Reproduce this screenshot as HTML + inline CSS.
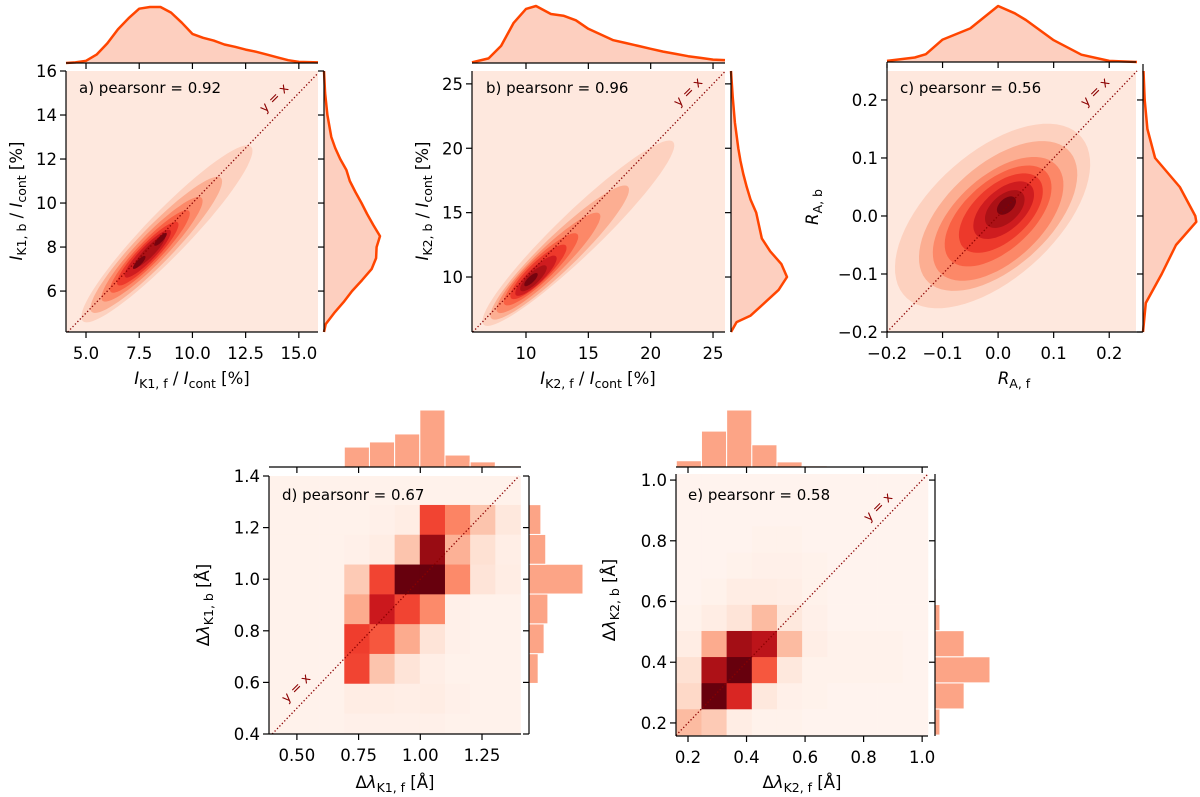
<!DOCTYPE html>
<html><head><meta charset="utf-8">
<style>
html,body{margin:0;padding:0;background:#fff;}
svg{display:block;font-family:"DejaVu Sans","Liberation Sans",sans-serif;}
</style></head>
<body>
<svg id="fig" width="1200" height="797" viewBox="0 0 1200 797" xmlns="http://www.w3.org/2000/svg">
<defs>
<clipPath id="clipA"><rect x="66" y="71" width="252" height="261"/></clipPath>
<clipPath id="clipB"><rect x="472" y="71" width="253" height="261"/></clipPath>
<clipPath id="clipC"><rect x="887" y="71" width="249" height="261"/></clipPath>
</defs>
</svg>
<script>
// ---------- DATA ----------
const aCx=[8.8,8.3,8.1,8.0,7.9,7.9,8.0,7.5,8.5];
const aCy=[8.6,8.1,7.9,7.8,7.7,7.7,7.8,7.3,8.35];
const aA=[5.6,4.3,3.3,2.6,2.0,1.5,1.0,0.4,0.4];
const aB=[1.0,0.82,0.66,0.53,0.43,0.34,0.23,0.12,0.12];
const aLev=[0.18,0.3,0.42,0.54,0.65,0.76,0.88,1.0,1.0];
const aTopX=[4.06,4.5,5,5.5,6,6.5,7,7.5,8,8.5,9,9.5,10,10.5,11,11.5,12,12.5,13,13.5,14,14.5,15,15.9];
const aTopY=[0,0.01,0.04,0.15,0.35,0.6,0.8,0.97,1.0,1.0,0.9,0.72,0.52,0.45,0.4,0.33,0.29,0.24,0.2,0.15,0.1,0.05,0.02,0.01];
const aRightY=[4.14,4.5,5,5.5,6,6.5,7,7.5,8,8.5,9,9.5,10,10.5,11,11.5,12,12.5,13,14,15,16];
const aRightV=[0,0.03,0.18,0.35,0.5,0.68,0.85,0.93,0.94,1.0,0.88,0.77,0.67,0.56,0.46,0.4,0.29,0.2,0.13,0.06,0.02,0];
const bCx=[14.2,12.7,11.8,11.2,11.0,10.8,10.6,10.4];
const bCy=[13.4,11.9,11.1,10.6,10.4,10.1,9.9,9.8];
const bA=[10.4,7.5,5.6,4.0,3.0,2.2,1.4,0.7];
const bB=[1.7,1.35,1.1,0.9,0.75,0.6,0.45,0.25];
const bLev=[0.18,0.3,0.42,0.54,0.65,0.76,0.88,1.0];
const bTopX=[5.67,7,8,9,10,10.8,12,13,14,15,16,17,18,19,20,21,22,23,24,25,25.96];
const bTopY=[0.01,0.08,0.3,0.7,0.95,1.0,0.86,0.83,0.75,0.6,0.5,0.4,0.35,0.3,0.25,0.2,0.16,0.12,0.09,0.06,0.05];
const bRightY=[5.73,6.5,7,8,9,10,11,12,13,14,15,16,17,18,19,20,22,24,26];
const bRightV=[0,0.1,0.35,0.6,0.85,1.0,0.9,0.7,0.55,0.5,0.45,0.35,0.28,0.22,0.17,0.13,0.07,0.03,0];
const cCx=[-0.01,0,0,0,0.005,0.01,0.012,0.015];
const cCy=[0,0,-0.005,0,0.005,0.01,0.012,0.018];
const cA=[0.21,0.17,0.14,0.115,0.09,0.065,0.042,0.02];
const cB=[0.11,0.09,0.075,0.06,0.048,0.035,0.024,0.012];
const cLev=[0.18,0.3,0.42,0.54,0.65,0.76,0.88,1.0];
const cTopX=[-0.2,-0.15,-0.13,-0.1,-0.05,0,0.03,0.05,0.1,0.15,0.2,0.25];
const cTopY=[0.02,0.08,0.14,0.4,0.6,1.0,0.87,0.75,0.39,0.13,0.02,0];
const cRightY=[-0.2,-0.15,-0.1,-0.05,-0.01,0,0.05,0.1,0.15,0.2,0.25];
const cRightV=[0,0.05,0.34,0.6,0.97,0.95,0.67,0.22,0.08,0.03,0.01];
const dX0=0.386, dXW=0.102, dY0=0.365, dYW=0.1155;
const dHeat=[
[0.02,0.02,0.02,0.03,0.03,0.03,0.03,0.02,0.02,0.02],
[0.02,0.02,0.02,0.05,0.05,0.04,0.05,0.03,0.02,0.02],
[0.02,0.02,0.02,0.6,0.22,0.1,0.04,0.02,0.02,0.02],
[0.02,0.02,0.02,0.62,0.55,0.3,0.1,0.03,0.02,0.02],
[0.02,0.02,0.02,0.3,0.75,0.6,0.4,0.03,0.02,0.02],
[0.02,0.02,0.02,0.2,0.6,1.0,1.0,0.4,0.1,0.05],
[0.02,0.02,0.02,0.03,0.05,0.22,0.9,0.28,0.12,0.04],
[0.02,0.02,0.02,0.02,0.03,0.05,0.6,0.42,0.22,0.08],
[0.02,0.02,0.02,0.02,0.02,0.02,0.02,0.02,0.02,0.02]];
const dTopH=[0,0,0,0.35,0.44,0.58,1.0,0.21,0.09,0.02];
const dRightH=[0,0.02,0.17,0.28,0.35,1.0,0.31,0.22,0];
const eX0=0.16, eXW=0.086, eY0=0.16, eYW=0.086;
const eHeat=[
[0.25,0.2,0.05,0.02,0.02,0.01,0.01,0.01,0.01,0.01],
[0.15,1.0,0.7,0.08,0.03,0.02,0.01,0.01,0.01,0.01],
[0.12,0.85,1.0,0.55,0.08,0.02,0.02,0.02,0.02,0.01],
[0.05,0.3,0.88,0.8,0.25,0.04,0.02,0.02,0.02,0.01],
[0.02,0.05,0.1,0.25,0.08,0.03,0.01,0.01,0.01,0.01],
[0.01,0.02,0.05,0.05,0.04,0.02,0.01,0.01,0.01,0.01],
[0.01,0.01,0.02,0.03,0.03,0.02,0.01,0.01,0.01,0.01],
[0.01,0.01,0.01,0.02,0.02,0.01,0.01,0.01,0.01,0.01],
[0.01,0.01,0.01,0.01,0.01,0.01,0.01,0.01,0.01,0.01],
[0.01,0.01,0.01,0.01,0.01,0.01,0.01,0.01,0.01,0.01]];
const eTopH=[0.11,0.63,1.0,0.39,0.09,0.02,0,0,0,0];
const eRightH=[0.09,0.53,1.0,0.53,0.09,0.02,0,0,0,0];
const aXT=[5,7.5,10,12.5,15], aXL=["5.0","7.5","10.0","12.5","15.0"];
const aYT=[6,8,10,12,14,16], aYL=["6","8","10","12","14","16"];
const bXT=[10,15,20,25], bXL=["10","15","20","25"];
const bYT=[10,15,20,25], bYL=["10","15","20","25"];
const cT=[-0.2,-0.1,0,0.1,0.2], cL=["\u22120.2","\u22120.1","0.0","0.1","0.2"];
const dXT=[0.5,0.75,1.0,1.25], dXL=["0.50","0.75","1.00","1.25"];
const dYT=[0.4,0.6,0.8,1.0,1.2,1.4], dYL=["0.4","0.6","0.8","1.0","1.2","1.4"];
const eT=[0.2,0.4,0.6,0.8,1.0], eL=["0.2","0.4","0.6","0.8","1.0"];

// ---------- RENDER ----------
const NS='http://www.w3.org/2000/svg';
const svg=document.getElementById('fig');
const TF=16.5;
function mk(tag,attrs,parent){const e=document.createElementNS(NS,tag);for(const k in attrs)e.setAttribute(k,attrs[k]);(parent||svg).appendChild(e);return e;}
const stops=[[255,245,240],[254,224,210],[252,187,161],[252,146,114],[251,106,74],[239,59,44],[203,24,29],[165,15,21],[103,0,13]];
function reds(v){v=Math.max(0,Math.min(1,v));const p=v*8,i=Math.min(7,Math.floor(p)),f=p-i;const a=stops[i],b=stops[i+1];return 'rgb('+a.map((c,k)=>Math.round(c+(b[k]-c)*f)).join(',')+')';}
function scale(d0,d1,r0,r1){return v=>r0+(v-d0)/(d1-d0)*(r1-r0);}

function makePanel(P){
  P.sx=scale(P.x0,P.x1,P.L,P.R);P.sy=scale(P.y0,P.y1,P.B,P.T);
  const g=mk('g',{});
  
  
  P.g=g;return P;
}
function axes(P,xt,xl,yt,yl){
  const g=P.g;
  const ls=mk('line',{x1:P.L,y1:P.T,x2:P.L,y2:P.B,stroke:'#000','stroke-width':1.2},g);
  
  
  const bs=mk('line',{x1:P.L,y1:P.B,x2:P.R,y2:P.B,stroke:'#000','stroke-width':1.2},g);
  
  
  xt.forEach((v,i)=>{const x=P.sx(v);
    const t=mk('line',{x1:x,y1:P.B,x2:x,y2:P.B+6,stroke:'#000','stroke-width':1.2},g);
    
    
    const tt=mk('line',{x1:x,y1:P.mT,x2:x,y2:P.mT+6,stroke:'#000','stroke-width':1.2},g);
    
    
    const l=mk('text',{x:x,y:P.B+27,'font-size':TF,'text-anchor':'middle',fill:'#000'},g);l.textContent=xl[i];
    
    });
  yt.forEach((v,i)=>{const y=P.sy(v);
    const t=mk('line',{x1:P.L-6,y1:y,x2:P.L,y2:y,stroke:'#000','stroke-width':1.2},g);
    
    
    const tt=mk('line',{x1:P.mR-6,y1:y,x2:P.mR,y2:y,stroke:'#000','stroke-width':1.2},g);
    
    
    const l=mk('text',{x:P.L-9,y:y+6,'font-size':TF,'text-anchor':'end',fill:'#000'},g);l.textContent=yl[i];
    
    });
  const ms=mk('line',{x1:P.L,y1:P.mT,x2:P.mTR||P.R,y2:P.mT,stroke:'#000','stroke-width':1.2},g);
  
  
  const rs=mk('line',{x1:P.mR,y1:P.T,x2:P.mR,y2:P.B,stroke:'#000','stroke-width':1.2},g);
  
  
}
function idLine(P,lx,ly){
  const lo=Math.max(P.x0,P.y0),hi=Math.min(P.x1,P.y1,P.idHi||99);
  const ln=mk('line',{x1:P.sx(lo),y1:P.sy(lo),x2:P.sx(hi),y2:P.sy(hi),stroke:'#8b0000','stroke-width':1.3,'stroke-dasharray':'1.3 2.2'},P.g);
  
  
  const t=mk('text',{x:lx,y:ly,'font-size':13,fill:'#8b0000','text-anchor':'middle',transform:'rotate(-45 '+lx+' '+ly+')'},P.g);t.textContent='y = x';
  
  
}
function pearson(P,x,y,s){
  const t=mk('text',{x:x,y:y,'font-size':15,fill:'#000'},P.g);t.textContent=s;
  
  
}
function label(P,x,y,rot,parts){
  const t=mk('text',{x:x,y:y,'font-size':16.5,'text-anchor':'middle',fill:'#000',transform:rot?'rotate(-90 '+x+' '+y+')':''},P.g);
  parts.forEach(p=>{const s=mk('tspan',{},t);s.textContent=p[0];
    if(p[1]==='i')s.setAttribute('font-style','italic');
    if(p[1]==='sub'){s.setAttribute('font-size',12.5);s.setAttribute('dy',4);}
    if(p[1]==='up'){s.setAttribute('dy',-4);}});
  
  
}
function kde(P,cx,cy,A,B,lev,ang,clip,bgx1,bgy1){
  const g=mk('g',{'clip-path':'url(#'+clip+')'},P.g);
  const bx1=P.sx(bgx1===undefined?P.x1:bgx1), by1=P.sy(bgy1===undefined?P.y1:bgy1);
  const bg=mk('rect',{x:P.L,y:by1,width:bx1-P.L,height:P.B-by1,fill:'#fee8de'},g);
  
  
  const th=ang*Math.PI/180;
  cx.forEach((c,i)=>{let pts=[];
    for(let k=0;k<72;k++){const t=k/72*2*Math.PI;
      const x=c+A[i]*Math.cos(th)*Math.cos(t)-B[i]*Math.sin(th)*Math.sin(t);
      const y=cy[i]+A[i]*Math.sin(th)*Math.cos(t)+B[i]*Math.cos(th)*Math.sin(t);
      pts.push(P.sx(x).toFixed(1)+','+P.sy(y).toFixed(1));}
    const p=mk('polygon',{points:pts.join(' '),fill:reds(lev[i]*0.97)},g);
    
    });
}
function margKde(P,xs,ys,rx,rv,topPeak,rightPeak){
  const mx=scale(0,1,P.mT,topPeak);
  let d='M'+P.sx(xs[0])+','+P.mT;
  xs.forEach((x,i)=>{d+=' L'+P.sx(x).toFixed(1)+','+mx(ys[i]).toFixed(1);});
  const f=mk('path',{d:d+' L'+P.sx(xs[xs.length-1])+','+P.mT+' Z',fill:'#fdcfbf'},P.g);
  
  
  let ld='';xs.forEach((x,i)=>{ld+=(i?' L':'M')+P.sx(x).toFixed(1)+','+mx(ys[i]).toFixed(1);});
  const l=mk('path',{d:ld,fill:'none',stroke:'#ff4500','stroke-width':2.5,'stroke-linejoin':'round'},P.g);
  
  
  const my=scale(0,1,P.mR,rightPeak);
  let rd='M'+P.mR+','+P.sy(rx[0]);
  rx.forEach((y,i)=>{rd+=' L'+my(rv[i]).toFixed(1)+','+P.sy(y).toFixed(1);});
  const rf=mk('path',{d:rd+' L'+P.mR+','+P.sy(rx[rx.length-1])+' Z',fill:'#fdcfbf'},P.g);
  
  
  let rl='';rx.forEach((y,i)=>{rl+=(i?' L':'M')+my(rv[i]).toFixed(1)+','+P.sy(y).toFixed(1);});
  const rll=mk('path',{d:rl,fill:'none',stroke:'#ff4500','stroke-width':2.5,'stroke-linejoin':'round'},P.g);
  
  
}
function heat(P,H,x0,xw,y0,yw,topH,rightH,topPeak,rightPeak){
  const g=mk('g',{},P.g);
  H.forEach((row,j)=>row.forEach((v,i)=>{
    const xa=Math.max(P.L,P.sx(x0+i*xw)),xb=Math.min(P.R,P.sx(x0+(i+1)*xw));
    const ya=Math.min(P.B,P.sy(y0+j*yw)),yb=Math.max(P.T,P.sy(y0+(j+1)*yw));
    if(xb<=xa||ya<=yb)return;
    const r=mk('rect',{x:xa,y:yb,width:xb-xa+0.3,height:ya-yb+0.3,fill:reds(v)},g);
    
    }));
  const mh=scale(0,1,P.mT,topPeak);
  topH.forEach((v,i)=>{if(v<=0)return;
    const xa=P.sx(x0+i*xw),xb=P.sx(x0+(i+1)*xw);
    const r=mk('rect',{x:xa,y:mh(v),width:xb-xa,height:P.mT-mh(v),fill:'#fca486',stroke:'#fff','stroke-width':1},P.g);
    
    });
  const mw=scale(0,1,P.mR,rightPeak);
  rightH.forEach((v,j)=>{if(v<=0)return;
    const ya=P.sy(y0+j*yw),yb=P.sy(y0+(j+1)*yw);
    const r=mk('rect',{x:P.mR,y:yb,width:mw(v)-P.mR,height:ya-yb,fill:'#fca486',stroke:'#fff','stroke-width':1},P.g);
    
    });
}

const PAn=makePanel({name:'panel-a',L:66,R:318,T:71,B:332,x0:4.06,x1:15.9,y0:4.14,y1:16.0,mT:63,mR:324});
kde(PAn,aCx,aCy,aA,aB,aLev,45,'clipA');
margKde(PAn,aTopX,aTopY,aRightY,aRightV,7,380);
idLine(PAn,277,101);
axes(PAn,aXT,aXL,aYT,aYL);
pearson(PAn,79,93,'a) pearsonr = 0.92');
label(PAn,192,384,false,[['I','i'],['K1, f','sub'],[' / ','up'],['I','i'],['cont','sub'],[' [%]','up']]);
label(PAn,22,201,true,[['I','i'],['K1, b','sub'],[' / ','up'],['I','i'],['cont','sub'],[' [%]','up']]);

const PBn=makePanel({name:'panel-b',L:472,R:725,T:71,B:332,x0:5.67,x1:25.96,y0:5.73,y1:26.0,mT:63,mR:731});
kde(PBn,bCx,bCy,bA,bB,bLev,43,'clipB');
margKde(PBn,bTopX,bTopY,bRightY,bRightV,6,787);
idLine(PBn,691,95);
axes(PBn,bXT,bXL,bYT,bYL);
pearson(PBn,486,93,'b) pearsonr = 0.96');
label(PBn,598,384,false,[['I','i'],['K2, f','sub'],[' / ','up'],['I','i'],['cont','sub'],[' [%]','up']]);
label(PBn,428,201,true,[['I','i'],['K2, b','sub'],[' / ','up'],['I','i'],['cont','sub'],[' [%]','up']]);

const PCn=makePanel({name:'panel-c',L:887,R:1142,T:64,B:332,x0:-0.2,x1:0.259,y0:-0.2,y1:0.262,mT:62,mR:1143,mTR:1136,idHi:0.25});
kde(PCn,cCx,cCy,cA,cB,cLev,40,'clipC',0.25,0.25);
margKde(PCn,cTopX,cTopY,cRightY,cRightV,6,1198);
idLine(PCn,1098,95);
axes(PCn,cT,cL,cT,cL);
pearson(PCn,900,93,'c) pearsonr = 0.56');
label(PCn,1014,384,false,[['R','i'],['A, f','sub']]);
label(PCn,818,207,true,[['R','i'],['A, b','sub']]);

const PDn=makePanel({name:'panel-d',L:269,R:521,T:476,B:734,x0:0.387,x1:1.408,y0:0.4,y1:1.4,mT:467,mR:529});
heat(PDn,dHeat,dX0,dXW,dY0,dYW,dTopH,dRightH,410,583);
idLine(PDn,299,691);
axes(PDn,dXT,dXL,dYT,dYL);
pearson(PDn,282,500,'d) pearsonr = 0.67');
label(PDn,395,788,false,[['\u0394'],['\u03bb','i'],['K1, f','sub'],[' [\u00c5]','up']]);
label(PDn,209,605,true,[['\u0394'],['\u03bb','i'],['K1, b','sub'],[' [\u00c5]','up']]);

const PEn=makePanel({name:'panel-e',L:676,R:928,T:474,B:736,x0:0.159,x1:1.02,y0:0.157,y1:1.02,mT:467,mR:935});
heat(PEn,eHeat,eX0,eXW,eY0,eYW,eTopH,eRightH,410,990);
idLine(PEn,881,510);
axes(PEn,eT,eL,eT,eL);
pearson(PEn,688,500,'e) pearsonr = 0.58');
label(PEn,802,788,false,[['\u0394'],['\u03bb','i'],['K2, f','sub'],[' [\u00c5]','up']]);
label(PEn,615,600,true,[['\u0394'],['\u03bb','i'],['K2, b','sub'],[' [\u00c5]','up']]);
</script>
</body></html>
